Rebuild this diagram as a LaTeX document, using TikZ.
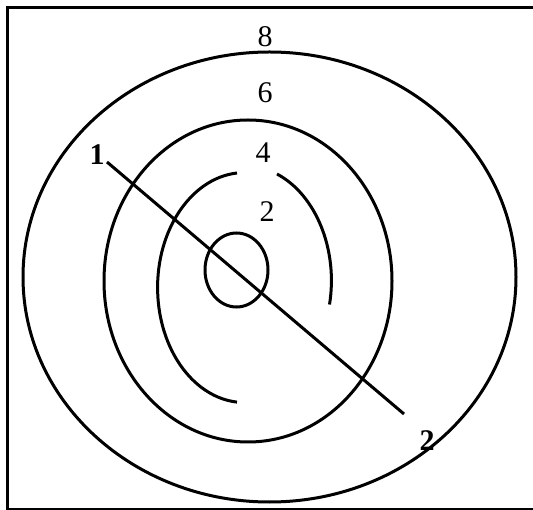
\documentclass[tikz,border=0pt]{standalone}
\usepackage{fontspec}
\setmainfont{Liberation Serif}
\usetikzlibrary{calc}
\tikzset{
  marco/.style={line width=3pt},
  curva/.style={line width=3pt},
  cota/.style={font=\fontsize{30}{34}\selectfont},
  extremo/.style={font=\fontsize{30}{34}\selectfont\bfseries}
}

\begin{document}
\begin{tikzpicture}[x=1pt, y=-1pt]
  \useasboundingbox (0,0) rectangle (533,510);

  % MARCO
  \draw[marco] (533,8) -- (7,8) -- (7,509) -- (533,509);

  % CURVAS DE NIVEL
  % Curva 8
  \draw[curva] (269.5,277) ellipse [x radius=246.5pt, y radius=225pt];
  % Curva 6
  \draw[curva] (248,281) ellipse [x radius=144pt, y radius=161pt];
  % Curva 4 (dos tramos)
  \draw[curva] (237,173) arc[start angle=95, end angle=265, x radius=87pt, y radius=115pt];
  \draw[curva] (277,174) arc[start angle=68, end angle=-12, x radius=87pt, y radius=115pt];
  % Curva 2
  \draw[curva] (236.5,270) ellipse [x radius=31.5pt, y radius=37pt];

  % Etiquetas de las curvas
  \node[cota] (c8) at (265,37) {8};
  \node[cota] (c6) at (265,93) {6};
  \node[cota] (c4) at (263,153) {4};
  \node[cota] (c2) at (267,212) {2};

  % PERFIL 1--2
  \coordinate (p1) at (107,162);
  \coordinate (p2) at (404,414);
  \draw[curva] (p1) -- (p2);
  \node[extremo] (e1) at (97,155) {1};
  \node[extremo] (e2) at (427,441) {2};
\end{tikzpicture}
\end{document}
